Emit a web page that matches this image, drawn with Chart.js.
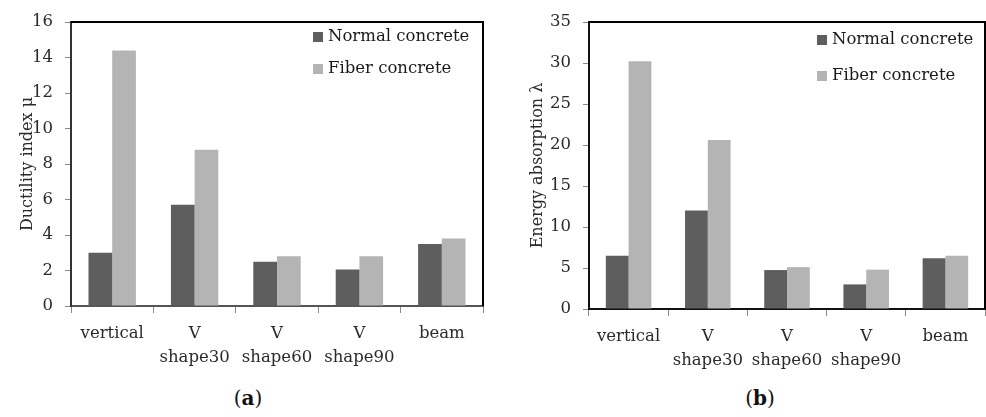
<!DOCTYPE html>
<html>
<head>
<meta charset="utf-8">
<script src="https://cdn.jsdelivr.net/npm/chart.js@4.4.1/dist/chart.umd.min.js"></script>
<style>
  html, body { margin: 0; padding: 0; background: #fff; }
  #wrap { position: relative; width: 986px; height: 417px; overflow: hidden; }
  .panel { position: absolute; top: 0; width: 493px; height: 380px; }
  .caption {
    position: absolute; top: 386px; width: 60px; text-align: center;
    font-family: "DejaVu Serif", serif; font-size: 20px; color: #111;
  }
</style>
</head>
<body>
<div id="wrap">
  <div class="panel" style="left:0"><canvas id="chart-a" width="493" height="380"></canvas></div>
  <div class="panel" style="left:493px"><canvas id="chart-b" width="493" height="380"></canvas></div>
  <div class="caption" style="left:218px">(<b>a</b>)</div>
  <div class="caption" style="left:730px">(<b>b</b>)</div>
</div>
<script>
// categorias (rótulos em duas linhas para os V)
const categories = ["vertical", ["V", "shape30"], ["V", "shape60"], ["V", "shape90"], "beam"];

// (a) índice de ductilidade
const ductilityNormal = [3.0, 5.7, 2.5, 2.05, 3.5];
const ductilityFiber = [14.4, 8.8, 2.8, 2.8, 3.8];

// (b) absorção de energia
const energyNormal = [6.5, 12.0, 4.75, 3.0, 6.2];
const energyFiber = [30.2, 20.6, 5.1, 4.8, 6.5];

const seriesLabels = ["Normal concrete", "Fiber concrete"];
const seriesColors = ["#5e5e5e", "#b4b4b4"];

const FONT = "DejaVu Serif";

// legenda desenhada dentro da área do gráfico, canto superior direito
const insideLegend = {
  id: "insideLegend",
  afterDatasetsDraw(chart, args, opts) {
    const { ctx, chartArea } = chart;
    ctx.save();
    ctx.font = "16.5px '" + FONT + "'";
    ctx.textBaseline = "middle";
    chart.data.datasets.forEach((ds, i) => {
      const x = chartArea.right - opts.fromRight;
      const y = chartArea.top + opts.firstRow + i * opts.rowGap;
      ctx.fillStyle = ds.backgroundColor;
      ctx.fillRect(x, y - 5, 10, 10);
      ctx.fillStyle = "#1a1a1a";
      ctx.fillText(ds.label, x + 15, y);
    });
    ctx.restore();
  },
};

// moldura superior e direita
const frameLines = {
  id: "frameLines",
  afterDraw(chart) {
    const { ctx, chartArea } = chart;
    ctx.save();
    ctx.strokeStyle = "#000";
    ctx.lineWidth = 2;
    ctx.beginPath();
    ctx.moveTo(chartArea.left, chartArea.top);
    ctx.lineTo(chartArea.right, chartArea.top);
    ctx.lineTo(chartArea.right, chartArea.bottom);
    ctx.stroke();
    ctx.restore();
  },
};

function makeChart(id, normal, fiber, cfg) {
  const ctx = document.getElementById(id).getContext("2d");
  return new Chart(ctx, {
    type: "bar",
    data: {
      labels: categories,
      datasets: [
        { label: seriesLabels[0], data: normal, backgroundColor: seriesColors[0] },
        { label: seriesLabels[1], data: fiber, backgroundColor: seriesColors[1] },
      ],
    },
    plugins: [insideLegend, frameLines],
    options: {
      responsive: false,
      animation: false,
      layout: { padding: { top: 22, right: cfg.padRight, bottom: 0, left: 0 } },
      datasets: { bar: { categoryPercentage: 0.575, barPercentage: 1.0 } },
      scales: {
        x: {
          afterFit: (scale) => { scale.height = cfg.xHeight; },
          grid: { offset: true, drawOnChartArea: false, tickLength: 7, color: "#8a8a8a" },
          border: { color: cfg.xBorder, width: 2 },
          ticks: {
            color: "#2a2a2a",
            padding: 9,
            maxRotation: 0,
            autoSkip: false,
            font: { family: FONT, size: 16.5, lineHeight: 1.45 },
          },
        },
        y: {
          min: 0,
          max: cfg.yMax,
          afterFit: (scale) => { scale.width = cfg.yWidth; },
          grid: { drawOnChartArea: false, tickLength: 6, color: "#8a8a8a" },
          border: { color: cfg.yBorder, width: 2 },
          ticks: {
            stepSize: cfg.yStep,
            color: "#2a2a2a",
            padding: 12,
            font: { family: FONT, size: 16.5 },
          },
          title: {
            display: true,
            text: cfg.yTitle,
            color: "#2a2a2a",
            padding: { top: cfg.titlePad, bottom: 0 },
            font: { family: FONT, size: 16, lineHeight: 1.2 },
          },
        },
      },
      plugins: {
        legend: { display: false },
        tooltip: { enabled: false },
        insideLegend: cfg.legend,
      },
    },
  });
}

makeChart("chart-a", ductilityNormal, ductilityFiber, {
  yTitle: "Ductility index μ",
  yMax: 16,
  yStep: 2,
  yWidth: 71,
  xHeight: 74,
  padRight: 10,
  titlePad: 18,
  xBorder: "#555",
  yBorder: "#333",
  legend: { fromRight: 170, firstRow: 15, rowGap: 32 },
});

makeChart("chart-b", energyNormal, energyFiber, {
  yTitle: "Energy absorption λ",
  yMax: 35,
  yStep: 5,
  yWidth: 96,
  xHeight: 71,
  padRight: 1,
  titlePad: 35,
  xBorder: "#111",
  yBorder: "#111",
  legend: { fromRight: 168, firstRow: 18, rowGap: 36 },
});
</script>
</body>
</html>
